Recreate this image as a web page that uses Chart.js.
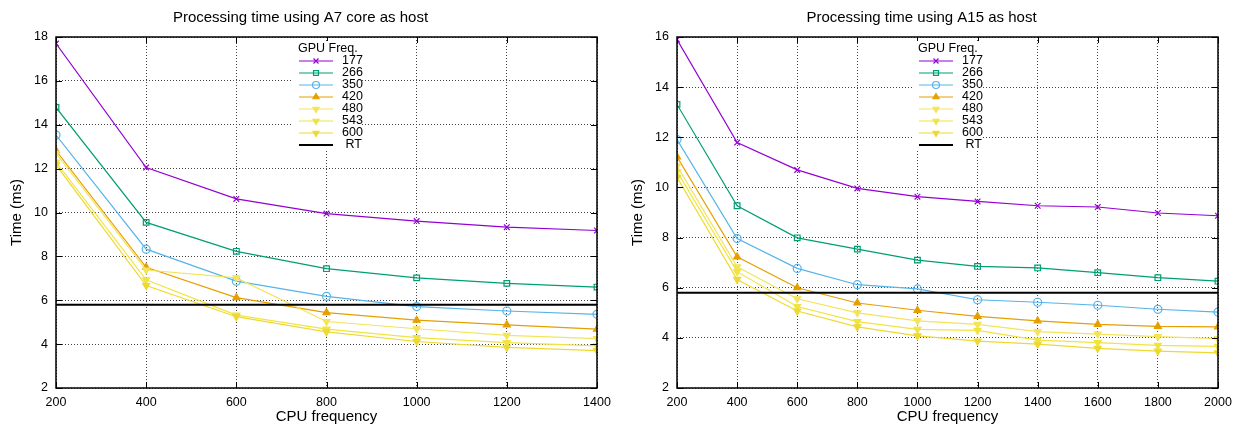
<!DOCTYPE html>
<html>
<head>
<meta charset="utf-8">
<script src="https://cdn.jsdelivr.net/npm/chart.js@4/dist/chart.umd.min.js"></script>
<style>
  html, body { margin: 0; padding: 0; background: #fff; }
  .wrap { display: flex; width: 1242px; height: 430px; }
  .box { position: relative; width: 621px; height: 430px; }
</style>
</head>
<body>
<div class="wrap">
  <div class="box"><canvas id="graficoA7"></canvas></div>
  <div class="box"><canvas id="graficoA15"></canvas></div>
</div>
<script>
// --- datos ---
const gpuFreq = ['177', '266', '350', '420', '480', '543', '600'];
const rtValue = 5.8;

const cpuA7 = [200, 400, 600, 800, 1000, 1200, 1400];
const a7_177 = [17.7, 12.05, 10.62, 9.95, 9.61, 9.33, 9.18];
const a7_266 = [14.79, 9.55, 8.23, 7.44, 7.02, 6.77, 6.6];
const a7_350 = [13.53, 8.33, 6.87, 6.18, 5.71, 5.51, 5.36];
const a7_420 = [12.82, 7.5, 6.12, 5.44, 5.09, 4.88, 4.68];
const a7_480 = [12.7, 7.38, 7.02, 5.03, 4.7, 4.4, 4.25];
const a7_543 = [12.3, 6.93, 5.32, 4.68, 4.3, 4.07, 3.92];
const a7_600 = [12.17, 6.67, 5.25, 4.56, 4.12, 3.85, 3.7];

const cpuA15 = [200, 400, 600, 800, 1000, 1200, 1400, 1600, 1800, 2000];
const a15_177 = [15.9, 11.79, 10.7, 9.96, 9.63, 9.44, 9.27, 9.22, 8.98, 8.87];
const a15_266 = [13.31, 9.27, 7.99, 7.54, 7.1, 6.85, 6.79, 6.6, 6.4, 6.26];
const a15_350 = [11.91, 7.96, 6.77, 6.12, 5.95, 5.52, 5.42, 5.3, 5.14, 5.03];
const a15_420 = [11.22, 7.23, 6.0, 5.39, 5.1, 4.86, 4.68, 4.54, 4.46, 4.44];
const a15_480 = [10.86, 6.83, 5.56, 5.0, 4.68, 4.54, 4.25, 4.15, 4.05, 3.97];
const a15_543 = [10.63, 6.64, 5.25, 4.65, 4.34, 4.3, 3.91, 3.81, 3.7, 3.66];
const a15_600 = [10.4, 6.33, 5.07, 4.44, 4.08, 3.87, 3.75, 3.58, 3.47, 3.4];

// estilos tipo gnuplot
const colores = ['#9400d3', '#009e73', '#56b4e9', '#e69f00', '#f3e45c', '#f0e442', '#eed932'];
const puntos = ['crossRot', 'rect', 'circle', 'triangle', 'triangle', 'triangle', 'triangle'];
const rotacion = [0, 0, 0, 0, 180, 180, 180];
const relleno = [false, false, false, true, true, true, true];
const FONT = "'Liberation Sans', Arial, sans-serif";

function armarDatasets(cpu, series) {
    const ds = series.map((vals, i) => ({
        label: gpuFreq[i],
        data: vals.map((v, k) => ({ x: cpu[k], y: v })),
        borderColor: colores[i],
        backgroundColor: relleno[i] ? colores[i] : 'rgba(0,0,0,0)',
        pointBorderColor: colores[i],
        borderWidth: 1.2,
        pointStyle: puntos[i],
        pointRotation: rotacion[i],
        pointRadius: i === 0 ? 4 : 4,
        pointBorderWidth: 1.2,
        order: 10 - i
    }));
    ds.push({
        label: ' RT',
        data: [{ x: cpu[0], y: rtValue }, { x: cpu[cpu.length - 1], y: rtValue }],
        borderColor: '#000',
        backgroundColor: '#000',
        borderWidth: 2,
        pointRadius: 0,
        order: 0
    });
    return ds;
}

// leyenda y marco al estilo gnuplot
const marcoGnuplot = {
    id: 'marcoGnuplot',
    afterDatasetsDraw(chart, args, opts) {
        const c = chart.ctx;
        const a = chart.chartArea;
        const xs = chart.scales.x, ys = chart.scales.y;
        c.save();
        // ticks hacia adentro en los cuatro lados
        c.strokeStyle = '#000';
        c.lineWidth = 1;
        c.beginPath();
        xs.ticks.forEach(t => {
            const px = Math.round(xs.getPixelForValue(t.value)) + 0.5;
            c.moveTo(px, a.bottom); c.lineTo(px, a.bottom - 6);
            c.moveTo(px, a.top); c.lineTo(px, a.top + 6);
        });
        ys.ticks.forEach(t => {
            const py = Math.round(ys.getPixelForValue(t.value)) + 0.5;
            c.moveTo(a.left, py); c.lineTo(a.left + 6, py);
            c.moveTo(a.right, py); c.lineTo(a.right - 6, py);
        });
        c.stroke();
        // leyenda
        const lx = a.left + opts.x, ly = a.top + 4;
        c.fillStyle = '#fff';
        c.fillRect(lx - 6, ly, 70, 110);
        c.font = '12.5px ' + FONT;
        c.fillStyle = '#000';
        c.textBaseline = 'middle';
        c.textAlign = 'left';
        c.fillText('GPU Freq.', lx, ly + 8);
        chart.data.datasets.forEach((d, i) => {
            const y = ly + 20 + i * 12;
            c.strokeStyle = d.borderColor;
            c.lineWidth = d.borderWidth;
            c.beginPath();
            c.moveTo(lx + 1, y); c.lineTo(lx + 35, y);
            c.stroke();
            if (d.pointRadius > 0) {
                c.fillStyle = d.backgroundColor;
                c.strokeStyle = d.borderColor;
                c.lineWidth = 1.2;
                Chart.helpers.drawPoint(c, {
                    pointStyle: d.pointStyle,
                    rotation: d.pointRotation,
                    radius: 3.5,
                    borderWidth: 1.2
                }, lx + 18, y);
            }
            c.fillStyle = '#000';
            c.fillText(d.label, lx + 44, y);
        });
        // marco
        c.strokeStyle = '#000';
        c.lineWidth = 1.5;
        c.strokeRect(a.left, a.top, a.right - a.left, a.bottom - a.top);
        c.restore();
    }
};

function crearGrafico(id, titulo, cpu, series, xMax, yMax, legendX) {
    const ctx = document.getElementById(id).getContext('2d');
    return new Chart(ctx, {
        type: 'line',
        data: { datasets: armarDatasets(cpu, series) },
        plugins: [marcoGnuplot],
        options: {
            responsive: false,
            animation: false,
            events: [],
            layout: { padding: { left: 4, right: 24, top: 0, bottom: 0 } },
            scales: {
                x: {
                    type: 'linear',
                    min: 200,
                    max: xMax,
                    afterFit: s => { s.height = 42; },
                    ticks: {
                        stepSize: 200, color: '#000', font: { size: 12.5, family: FONT }, padding: 7, maxRotation: 0,
                        callback: v => String(v)
                    },
                    grid: { color: '#444', lineWidth: 1, drawTicks: false, tickLength: 0 },
                    border: { display: false, dash: [1, 2] },
                    title: { display: true, text: 'CPU frequency', color: '#000', font: { size: 15, family: FONT }, padding: { top: 0 } }
                },
                y: {
                    min: 2,
                    max: yMax,
                    afterFit: s => { s.width = 52; },
                    ticks: { stepSize: 2, color: '#000', font: { size: 12.5, family: FONT }, padding: 8 },
                    grid: { color: '#444', lineWidth: 1, drawTicks: false, tickLength: 0 },
                    border: { display: false, dash: [1, 2] },
                    title: { display: true, text: 'Time (ms)', color: '#000', font: { size: 15, family: FONT }, padding: { bottom: 0 } }
                }
            },
            plugins: {
                legend: { display: false },
                tooltip: { enabled: false },
                title: {
                    display: true,
                    text: titulo,
                    color: '#000',
                    font: { size: 15, weight: 'normal', family: FONT },
                    padding: { top: 9, bottom: 10 }
                },
                marcoGnuplot: { x: legendX }
            }
        }
    });
}

// tamaño fijo del canvas
['graficoA7', 'graficoA15'].forEach(id => {
    const cv = document.getElementById(id);
    cv.width = 621; cv.height = 430;
    cv.style.width = '621px'; cv.style.height = '430px';
});

crearGrafico('graficoA7', 'Processing time using A7 core as host', cpuA7,
    [a7_177, a7_266, a7_350, a7_420, a7_480, a7_543, a7_600], 1400, 18, 242);
crearGrafico('graficoA15', 'Processing time using A15 as host', cpuA15,
    [a15_177, a15_266, a15_350, a15_420, a15_480, a15_543, a15_600], 2000, 16, 241);
</script>
</body>
</html>
